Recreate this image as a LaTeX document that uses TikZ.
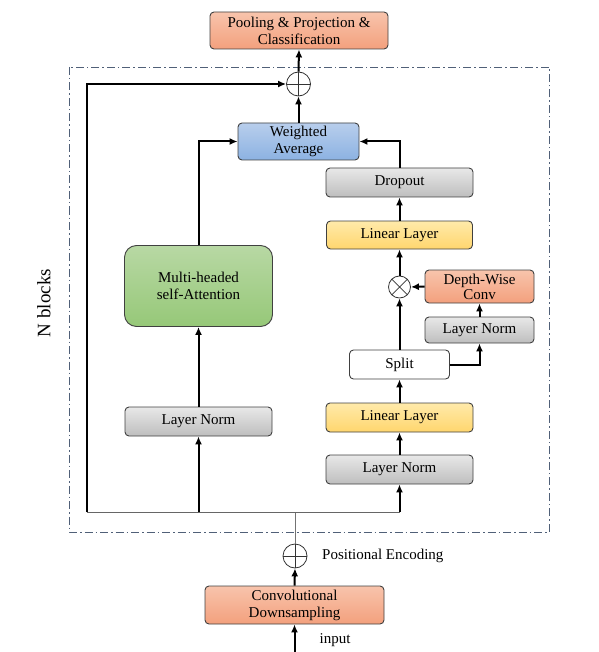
\documentclass[tikz,border=0pt]{standalone}
\usepackage{fontspec}
\setmainfont{Liberation Serif}
\usetikzlibrary{arrows.meta}
\definecolor{orT}{RGB}{248,196,172}
\definecolor{orB}{RGB}{243,160,125}
\definecolor{blT}{RGB}{184,206,236}
\definecolor{blB}{RGB}{140,178,226}
\definecolor{grT}{RGB}{184,216,164}
\definecolor{grB}{RGB}{150,200,120}
\definecolor{yeT}{RGB}{255,234,170}
\definecolor{yeB}{RGB}{255,214,110}
\definecolor{gyT}{RGB}{232,232,232}
\definecolor{gyB}{RGB}{190,190,190}
\definecolor{dashc}{RGB}{80,96,120}
\begin{document}
\begin{tikzpicture}[x=1pt,y=-1pt,
  box/.style={draw=black!75, line width=0.9pt, rounded corners=4pt, inner sep=0pt, align=center, font=\fontsize{15}{17}\selectfont},
  orbox/.style={box, top color=orT, bottom color=orB},
  blbox/.style={box, top color=blT, bottom color=blB},
  grbox/.style={box, top color=grT, bottom color=grB, rounded corners=12pt},
  yebox/.style={box, top color=yeT, bottom color=yeB},
  gybox/.style={box, top color=gyT, bottom color=gyB},
  whbox/.style={box, fill=white},
  arr/.style={line width=2pt, -{Latex[length=8pt,width=7pt]}},
  circ/.style={circle, draw=black!80, line width=0.8pt, fill=white, inner sep=0pt},
  pluscirc/.style={circ, path picture={\draw[line width=0.7pt] (path picture bounding box.north) -- (path picture bounding box.south) (path picture bounding box.west) -- (path picture bounding box.east);}},
  timescirc/.style={circ, path picture={\draw[line width=0.7pt] ([shift={(-8pt,-8pt)}]path picture bounding box.center) -- ([shift={(8pt,8pt)}]path picture bounding box.center) ([shift={(-8pt,8pt)}]path picture bounding box.center) -- ([shift={(8pt,-8pt)}]path picture bounding box.center);}},
  lbl/.style={font=\fontsize{15}{17}\selectfont, inner sep=0pt}
]
\useasboundingbox (0,0) rectangle (598,652);

% dashed block
\draw[draw=dashc, line width=0.8pt, dash pattern=on 8pt off 3pt on 1.5pt off 3pt] (69,67) rectangle (549,532);
\node[rotate=90, font=\fontsize{19}{22}\selectfont, inner sep=0pt] (nblk) at (44,303) {N blocks};

% nodes
\node[orbox, minimum width=178pt, minimum height=37pt] (pool) at (299,30.5) {Pooling \& Projection \&\\Classification};
\node[pluscirc, minimum size=24pt] (plustop) at (298.5,84) {};
\node[blbox, minimum width=121pt, minimum height=37pt] (wavg) at (298.5,141.5) {Weighted\\Average};
\node[gybox, minimum width=147pt, minimum height=29pt] (dropout) at (399.5,182.5) {Dropout};
\node[yebox, minimum width=146pt, minimum height=28pt] (lin1) at (399.5,235) {Linear Layer};
\node[timescirc, minimum size=22pt] (otimes) at (399.5,287) {};
\node[orbox, minimum width=109pt, minimum height=33pt, font=\fontsize{15}{15}\selectfont] (dwc) at (479.5,286.5) {Depth-Wise\\Conv};
\node[gybox, minimum width=109pt, minimum height=26pt] (ln3) at (479.5,330) {Layer Norm};
\node[whbox, minimum width=100pt, minimum height=29pt] (split) at (399.5,364.5) {Split};
\node[yebox, minimum width=147pt, minimum height=29pt] (lin2) at (399.5,417.5) {Linear Layer};
\node[gybox, minimum width=147pt, minimum height=29pt] (ln2) at (399.5,469.5) {Layer Norm};
\node[grbox, minimum width=148pt, minimum height=81pt] (mhsa) at (198.5,286) {Multi-headed\\self-Attention};
\node[gybox, minimum width=147pt, minimum height=29pt] (ln1) at (198.5,421.5) {Layer Norm};
\node[pluscirc, minimum size=24pt] (plusbot) at (295,556) {};
\node[lbl, anchor=west] (posenc) at (322,556) {Positional Encoding};
\node[orbox, minimum width=179pt, minimum height=38pt] (conv) at (294.5,605) {Convolutional\\Downsampling};
\node[lbl] (inlbl) at (335,640) {input};

\coordinate (jl) at (87,512);
\coordinate (jm) at (198.5,512);
\coordinate (jc) at (295,512);
\coordinate (jr) at (399.5,512);
\coordinate (inp) at (294.5,652);

% connectors
\draw[draw=black!55, line width=0.9pt] (plusbot.north) -- (jc);
\draw[draw=black!60, line width=1pt] (jl) -- (jr);
\draw[arr] (jl) |- (plustop.west);
\draw[arr] (jm) -- (ln1.south);
\draw[arr] (jr) -- (ln2.south);
\draw[arr] (ln1.north) -- (mhsa.south);
\draw[arr] (mhsa.north) |- (wavg.west);
\draw[arr] (dropout.north) |- (wavg.east);
\draw[arr] (wavg.north) -- (plustop.south);
\draw[arr] (plustop.north) -- (pool.south);
\draw[arr] (lin1.north) -- (dropout.south);
\draw[arr] (otimes.north) -- (lin1.south);
\draw[arr] (dwc.west) -- (otimes.east);
\draw[arr] (ln3.north) -- (dwc.south);
\draw[arr] (split.east) -| (ln3.south);
\draw[arr] (split.north) -- (otimes.south);
\draw[arr] (lin2.north) -- (split.south);
\draw[arr] (ln2.north) -- (lin2.south);
\draw[arr] (conv.north) -- (plusbot.south);
\draw[arr] (inp) -- (conv.south);
\end{tikzpicture}
\end{document}
